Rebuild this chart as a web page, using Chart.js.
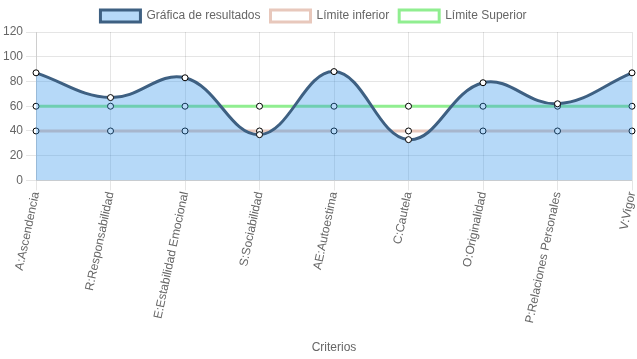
<!DOCTYPE html>
<html>
<head>
<meta charset="utf-8">
<script src="https://cdn.jsdelivr.net/npm/chart.js@4/dist/chart.umd.min.js"></script>
<style>
  html, body { margin: 0; padding: 0; background: #fff; }
  #wrap { width: 637px; height: 359px; }
</style>
</head>
<body>
<div id="wrap"><canvas id="c" width="637" height="359"></canvas></div>
<script>
const categories = ["A:Ascendencia", "R:Responsabilidad", "E:Estabilidad Emocional", "S:Sociabilidad", "AE:Autoestima", "C:Cautela", "O:Originalidad", "P:Relaciones Personales", "V:Vigor"];
const resultados = [87, 67, 83, 37, 88, 33, 79, 62, 87];
const limiteInferior = [40, 40, 40, 40, 40, 40, 40, 40, 40];
const limiteSuperior = [60, 60, 60, 60, 60, 60, 60, 60, 60];
const yTicks = [0, 20, 40, 60, 80, 100, 120];

Chart.defaults.font.family = "'Liberation Sans', Arial, sans-serif";
Chart.defaults.font.size = 12;
Chart.defaults.color = '#666';

const legendShift = {
  id: 'legendShift',
  afterLayout(chart) {
    if (chart.legend) { chart.legend.left -= 5; chart.legend.right -= 5; }
  }
};

new Chart(document.getElementById('c'), {
  type: 'line',
  plugins: [legendShift],
  data: {
    labels: categories,
    datasets: [
      {
        label: 'Gráfica de resultados',
        data: resultados,
        borderColor: 'rgb(62,96,130)',
        backgroundColor: 'rgba(54,150,235,0.36)',
        borderWidth: 3,
        fill: 'origin',
        tension: 0.4,
        pointRadius: 3,
        pointBackgroundColor: '#fff',
        pointBorderColor: '#000',
        pointBorderWidth: 1
      },
      {
        label: 'Límite inferior',
        data: limiteInferior,
        borderColor: 'rgb(232,200,188)',
        backgroundColor: '#fff',
        borderWidth: 3,
        fill: false,
        tension: 0,
        pointRadius: 3,
        pointBackgroundColor: '#fff',
        pointBorderColor: '#000',
        pointBorderWidth: 1
      },
      {
        label: 'Límite Superior',
        data: limiteSuperior,
        borderColor: 'rgb(144,238,144)',
        backgroundColor: '#fff',
        borderWidth: 3,
        fill: false,
        tension: 0,
        pointRadius: 3,
        pointBackgroundColor: '#fff',
        pointBorderColor: '#000',
        pointBorderWidth: 1
      }
    ]
  },
  options: {
    responsive: false,
    animation: false,
    layout: { padding: { left: 0, right: 0, top: 0, bottom: 0 } },
    plugins: {
      legend: {
        position: 'top',
        labels: { boxWidth: 40, boxHeight: 12, padding: 10, font: { size: 12 } }
      },
      tooltip: { enabled: false }
    },
    scales: {
      x: {
        title: { display: true, text: 'Criterios', font: { size: 12 }, padding: { top: 4, bottom: 4 } },
        grid: { color: 'rgba(0,0,0,0.1)', tickLength: 10 },
        ticks: { minRotation: 78, maxRotation: 78, autoSkip: false, padding: 0 },
        afterFit: (axis) => { axis.paddingRight = 2; axis.height += 12; }
      },
      y: {
        min: 0,
        max: 120,
        grid: { color: 'rgba(0,0,0,0.1)', tickLength: 10 },
        afterBuildTicks: (axis) => { axis.ticks = yTicks.map(v => ({ value: v })); },
        ticks: { stepSize: 20, padding: 3 }
      }
    }
  }
});
</script>
</body>
</html>
